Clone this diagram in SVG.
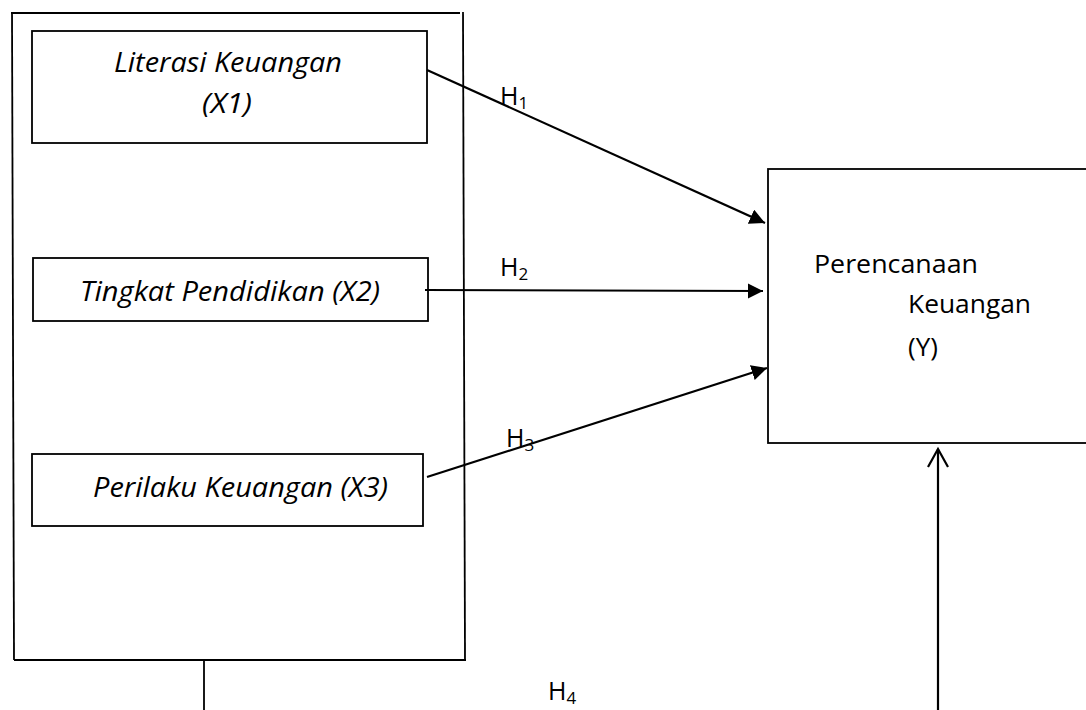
<svg xmlns="http://www.w3.org/2000/svg" width="1086" height="710" viewBox="0 0 1086 710">
<style>
.box{fill:#fff;stroke:#000;stroke-width:1.8}
.ln{fill:none;stroke:#000;stroke-width:1.8}
.arr{fill:none;stroke:#000;stroke-width:2.2}
.it{font-family:"Open Sans","Liberation Sans",sans-serif;font-style:italic;font-size:27px;fill:#000}
.tx{font-family:"Open Sans","Liberation Sans",sans-serif;font-size:26px;fill:#000}
.h{font-family:"Open Sans","Liberation Sans",sans-serif;font-size:25px;fill:#000}
.sub{font-size:17px}
</style>
<defs>
<marker id="tri" viewBox="0 0 10 10" refX="10" refY="5" markerWidth="7" markerHeight="7" markerUnits="strokeWidth" orient="auto">
<path d="M0,0 L10,5 L0,10 z" fill="#000"/>
</marker>
</defs>
<rect width="1086" height="710" fill="#fff"/>
<g id="container">
<line class="ln" x1="11" y1="13" x2="460" y2="13"/>
<line class="ln" x1="12" y1="13" x2="14" y2="660"/>
<line class="ln" x1="463" y1="12" x2="465" y2="660"/>
<line class="ln" x1="14" y1="660" x2="466" y2="660"/>
</g>
<g id="x1">
<rect class="box" x="32" y="31" width="395" height="112"/>
<text class="it" x="114" y="72" textLength="228" lengthAdjust="spacingAndGlyphs">Literasi Keuangan</text>
<text class="it" x="202" y="113" textLength="50" lengthAdjust="spacingAndGlyphs">(X1)</text>
</g>
<g id="x2">
<rect class="box" x="33" y="258" width="395" height="63"/>
<text class="it" x="80" y="301" textLength="300" lengthAdjust="spacingAndGlyphs">Tingkat Pendidikan (X2)</text>
</g>
<g id="x3">
<rect class="box" x="32" y="454" width="391" height="72"/>
<text class="it" x="93" y="497" textLength="295" lengthAdjust="spacingAndGlyphs">Perilaku Keuangan (X3)</text>
</g>
<g id="y">
<rect class="box" x="768" y="169" width="330" height="274"/>
<text class="tx" x="814" y="273" textLength="164" lengthAdjust="spacingAndGlyphs">Perencanaan</text>
<text class="tx" x="908" y="313" textLength="123" lengthAdjust="spacingAndGlyphs">Keuangan</text>
<text class="tx" x="908" y="356">(Y)</text>
</g>
<g id="connectors">
<line class="arr" x1="427" y1="70" x2="765" y2="223" marker-end="url(#tri)"/>
<line class="arr" x1="425" y1="290" x2="763" y2="291" marker-end="url(#tri)"/>
<line class="arr" x1="427" y1="477" x2="767" y2="368" marker-end="url(#tri)"/>
<line class="ln" x1="204" y1="660" x2="204" y2="710"/>
<line class="arr" x1="938" y1="710" x2="938" y2="449"/>
<polyline class="arr" points="928,467 938,449 948,467"/>
</g>
<g id="labels">
<text class="h" x="500" y="105">H<tspan class="sub" dy="4">1</tspan></text>
<text class="h" x="500" y="276">H<tspan class="sub" dy="4">2</tspan></text>
<text class="h" x="506" y="447">H<tspan class="sub" dy="4">3</tspan></text>
<text class="h" x="548" y="700">H<tspan class="sub" dy="4">4</tspan></text>
</g>
</svg>
